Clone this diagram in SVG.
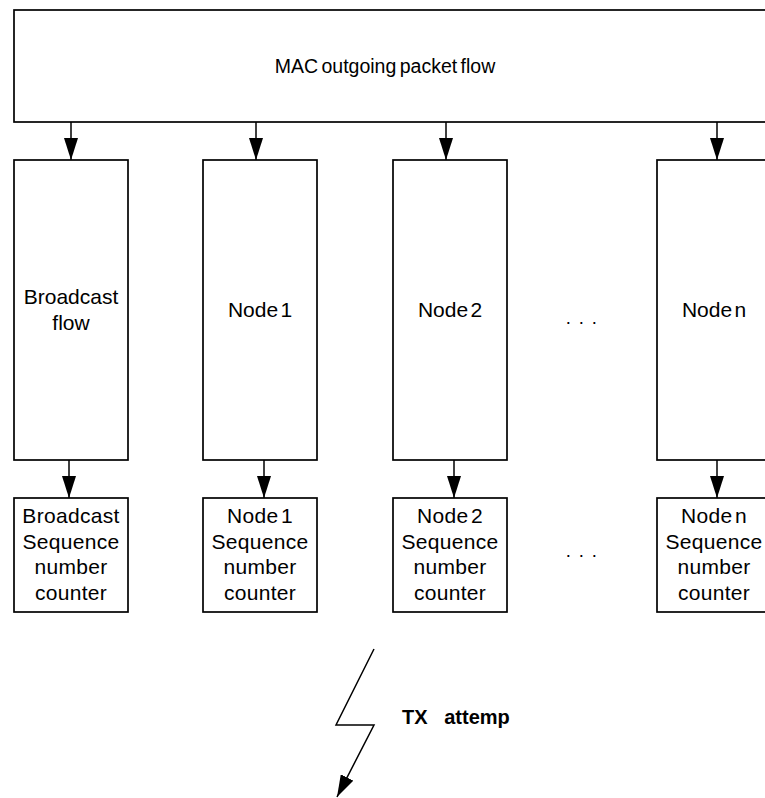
<svg xmlns="http://www.w3.org/2000/svg" width="765" height="798" viewBox="0 0 765 798">
<style>
.box{fill:#fff;stroke:#000;stroke-width:1.7}
.ln{fill:none;stroke:#000;stroke-width:1.5}
.t{font-family:"Liberation Sans",Arial,sans-serif;font-size:21px;fill:#000;text-anchor:middle;word-spacing:-3.5px}
.c{letter-spacing:0.3px}
.m{font-size:19.5px;word-spacing:-2px}
.d{font-size:18.5px;letter-spacing:1.4px;word-spacing:0}
.b{font-family:"Liberation Sans",Arial,sans-serif;font-size:20px;font-weight:bold;fill:#000;white-space:pre}
</style>
<defs>
<marker id="ah" markerWidth="22" markerHeight="14" refX="22" refY="7" orient="auto" markerUnits="userSpaceOnUse">
<path d="M0,0 L22,7 L0,14 Z" fill="#000"/>
</marker>
</defs>
<rect width="765" height="798" fill="#fff"/>
<g id="connectors">
<line class="ln" x1="71" y1="122" x2="71" y2="160" marker-end="url(#ah)"/>
<line class="ln" x1="256" y1="122" x2="256" y2="160" marker-end="url(#ah)"/>
<line class="ln" x1="446" y1="122" x2="446" y2="160" marker-end="url(#ah)"/>
<line class="ln" x1="717" y1="122" x2="717" y2="160" marker-end="url(#ah)"/>
<line class="ln" x1="69" y1="460" x2="69" y2="498" marker-end="url(#ah)"/>
<line class="ln" x1="264" y1="460" x2="264" y2="498" marker-end="url(#ah)"/>
<line class="ln" x1="454" y1="460" x2="454" y2="498" marker-end="url(#ah)"/>
<line class="ln" x1="717" y1="460" x2="717" y2="498" marker-end="url(#ah)"/>
<polyline class="ln" points="374,649 336,725 374,725 337,797" marker-end="url(#ah)"/>
</g>
<g id="mac">
<rect class="box" x="14" y="10" width="770" height="112"/>
<text class="t m" x="385" y="73">MAC outgoing packet flow</text>
</g>
<g id="broadcast-flow">
<rect class="box" x="14" y="160" width="114" height="300"/>
<text class="t" x="71" y="304">Broadcast</text>
<text class="t" x="71" y="330">flow</text>
</g>
<g id="node1">
<rect class="box" x="203" y="160" width="114" height="300"/>
<text class="t" x="260" y="317">Node 1</text>
</g>
<g id="node2">
<rect class="box" x="393" y="160" width="114" height="300"/>
<text class="t" x="450" y="317">Node 2</text>
</g>
<g id="dots1"><text class="t d" x="582" y="324">. . .</text></g>
<g id="noden">
<rect class="box" x="657" y="160" width="114" height="300"/>
<text class="t" x="714" y="317">Node n</text>
</g>
<g id="broadcast-counter">
<rect class="box" x="14" y="498" width="114" height="114"/>
<text class="t c" x="71" y="523">Broadcast</text>
<text class="t c" x="71" y="549">Sequence</text>
<text class="t c" x="71" y="574">number</text>
<text class="t c" x="71" y="600">counter</text>
</g>
<g id="node1-counter">
<rect class="box" x="203" y="498" width="114" height="114"/>
<text class="t c" x="260" y="523">Node 1</text>
<text class="t c" x="260" y="549">Sequence</text>
<text class="t c" x="260" y="574">number</text>
<text class="t c" x="260" y="600">counter</text>
</g>
<g id="node2-counter">
<rect class="box" x="393" y="498" width="114" height="114"/>
<text class="t c" x="450" y="523">Node 2</text>
<text class="t c" x="450" y="549">Sequence</text>
<text class="t c" x="450" y="574">number</text>
<text class="t c" x="450" y="600">counter</text>
</g>
<g id="dots2"><text class="t d" x="582" y="557">. . .</text></g>
<g id="noden-counter">
<rect class="box" x="657" y="498" width="114" height="114"/>
<text class="t c" x="714" y="523">Node n</text>
<text class="t c" x="714" y="549">Sequence</text>
<text class="t c" x="714" y="574">number</text>
<text class="t c" x="714" y="600">counter</text>
</g>
<g id="tx">
<text class="b" x="402" y="724">TX   attemp</text>
</g>
</svg>
